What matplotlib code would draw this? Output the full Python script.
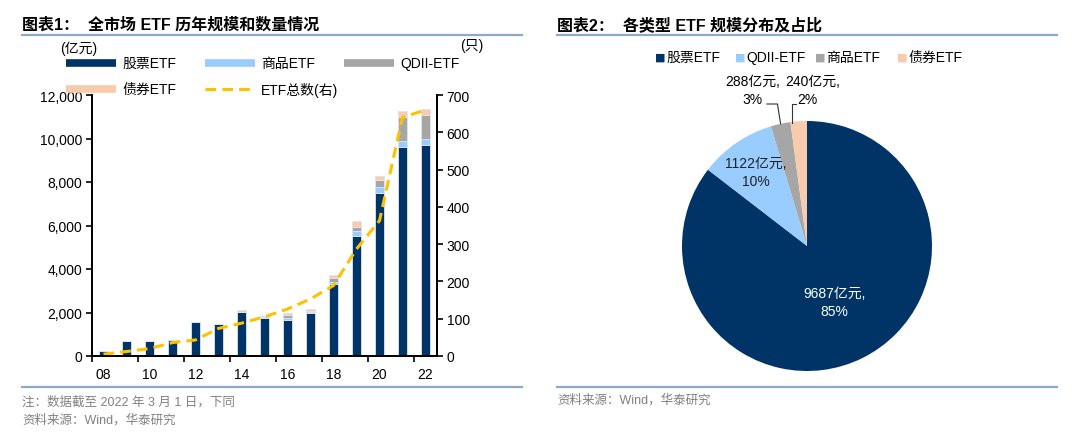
import matplotlib
matplotlib.use("Agg")
import matplotlib.pyplot as plt
from matplotlib.lines import Line2D
import numpy as np

plt.rcParams['font.family'] = ['Liberation Sans', 'Noto Sans CJK SC', 'DejaVu Sans']

# ---------------- data ----------------
years = ['08', '09', '10', '11', '12', '13', '14', '15', '16', '17', '18', '19', '20', '21', '22']
stock_etf = [220, 680, 700, 740, 1560, 1490, 2040, 1730, 1670, 1960, 3300, 5530, 7490, 9600, 9687]
commodity_etf = [0, 0, 0, 0, 0, 0, 0, 30, 60, 50, 120, 200, 260, 300, 288]
qdii_etf = [0, 0, 0, 0, 0, 0, 0, 40, 140, 80, 150, 180, 360, 1100, 1122]
bond_etf = [0, 0, 0, 0, 0, 0, 70, 50, 90, 70, 170, 280, 180, 250, 240]
etf_count = [5, 12, 20, 36, 43, 74, 88, 105, 126, 153, 189, 287, 363, 640, 660]

pie_labels = ['股票ETF', 'QDII-ETF', '商品ETF', '债券ETF']
pie_values = [9687, 1122, 288, 240]

# ---------------- style ----------------
C_STOCK = '#003366'
C_COMM = '#99CCFF'
C_QDII = '#A6A6A6'
C_BOND = '#F8CBAD'
C_LINE = '#FFC000'
C_RULE = '#8DA9CC'
C_NOTE = '#808080'

W, H = 1080, 435
fig = plt.figure(figsize=(W / 100, H / 100), dpi=100)


def fx(px):
    return px / W


def fy(py):
    return 1 - py / H


# ---------------- titles & rules ----------------
fig.text(fx(22), fy(25), '图表1：  全市场 ETF 历年规模和数量情况', fontsize=11.5,
         fontweight='bold', va='center', ha='left')
fig.text(fx(557), fy(25), '图表2：  各类型 ETF 规模分布及占比', fontsize=11.5,
         fontweight='bold', va='center', ha='left')
for (x0, x1) in [(22, 522), (557, 1057)]:
    for yy in (35.5, 388):
        fig.add_artist(Line2D([fx(x0), fx(x1)], [fy(yy), fy(yy)], color=C_RULE, lw=1.6))

fig.text(fx(22), fy(402), '注：数据截至 2022 年 3 月 1 日，下同', fontsize=9, color=C_NOTE,
         va='center', ha='left')
fig.text(fx(22), fy(420), '资料来源：Wind，华泰研究', fontsize=9, color=C_NOTE,
         va='center', ha='left')
fig.text(fx(557), fy(400), '资料来源：Wind，华泰研究', fontsize=9, color=C_NOTE,
         va='center', ha='left')

# ---------------- chart 1 ----------------
ax = fig.add_axes([fx(92), fy(357), fx(437) - fx(92), fy(96) - fy(357)])
x = np.arange(len(years))
bw = 0.42
stock = np.array(stock_etf, float)
comm = np.array(commodity_etf, float)
qdii = np.array(qdii_etf, float)
bond = np.array(bond_etf, float)
ekw = dict(edgecolor='#DDE6F0', linewidth=0.6)
ax.bar(x, stock, bw, color=C_STOCK, **ekw)
ax.bar(x, comm, bw, bottom=stock, color=C_COMM, **ekw)
ax.bar(x, qdii, bw, bottom=stock + comm, color=C_QDII, **ekw)
ax.bar(x, bond, bw, bottom=stock + comm + qdii, color=C_BOND, **ekw)

ax.set_xlim(-0.5, len(years) - 0.5)
ax.set_ylim(0, 12000)
ax.set_yticks(np.arange(0, 12001, 2000))
ax.set_yticklabels([f'{v:,}' for v in range(0, 12001, 2000)], fontsize=10)
ax.set_xticks(x[::2])
ax.set_xticklabels(years[::2], fontsize=10)
ax.tick_params(axis='x', which='major', length=0, pad=8)
ax.set_xticks(np.arange(-0.5, len(years) - 0.5, 2), minor=True)
ax.tick_params(axis='x', which='minor', length=4, width=1.2, direction='out')
ax.tick_params(axis='y', length=4, width=1.2, direction='out', pad=3)
ax.spines['top'].set_visible(False)
for s in ['left', 'right', 'bottom']:
    ax.spines[s].set_linewidth(1.3)

ax2 = ax.twinx()
ax2.set_ylim(0, 700)
ax2.set_yticks(np.arange(0, 701, 100))
ax2.tick_params(axis='y', labelsize=10, length=4, width=1.2, direction='out', pad=3)
ax2.spines['top'].set_visible(False)
for s in ['left', 'right', 'bottom']:
    ax2.spines[s].set_linewidth(1.3)
ax2.plot(x, etf_count, color=C_LINE, lw=2.2, linestyle=(0, (3.5, 2)))

fig.text(fx(60), fy(49), '(亿元)', fontsize=10, va='center', ha='left')
fig.text(fx(460), fy(46), '(只)', fontsize=10, va='center', ha='left')

# legend (chart 1)
leg_items = [
    (66, 64, C_STOCK, '股票ETF', '-'),
    (205, 64, C_COMM, '商品ETF', '-'),
    (344, 64, C_QDII, 'QDII-ETF', '-'),
    (66, 90, C_BOND, '债券ETF', '-'),
    (205, 90, C_LINE, 'ETF总数(右)', '--'),
]
for (lx, ly, col, lab, ls) in leg_items:
    if ls == '-':
        fig.add_artist(Line2D([fx(lx), fx(lx + 50)], [fy(ly), fy(ly)], color=col, lw=5.5,
                              solid_capstyle='butt'))
    else:
        fig.add_artist(Line2D([fx(lx), fx(lx + 50)], [fy(ly), fy(ly)], color=col, lw=2.2,
                              linestyle=(0, (3.5, 2))))
    fig.text(fx(lx + 56), fy(ly), lab, fontsize=10, va='center', ha='left')

# ---------------- chart 2 (pie) ----------------
cx, cy, r = 807, 247, 125
pax = fig.add_axes([fx(cx - r), fy(cy + r), 2 * r / W, 2 * r / H])
pie_colors = [C_STOCK, C_COMM, C_QDII, C_BOND]
wedges, _ = pax.pie(pie_values, colors=pie_colors, startangle=90, counterclock=False,
                    radius=1, wedgeprops=dict(linewidth=0))
pax.set_xlim(-1, 1)
pax.set_ylim(-1, 1)
pax.set_aspect('equal')

total = sum(pie_values)
fracs = [v / total for v in pie_values]
cum = np.cumsum([0] + fracs)
mid_ang = [np.deg2rad(90 - 360 * (cum[i] + fracs[i] / 2)) for i in range(len(fracs))]
labels_txt = [f'{v}亿元,\n{round(f * 100)}%' for v, f in zip(pie_values, fracs)]

# inside labels
for i, dist, col in [(0, 0.5, 'white'), (1, 0.72, '#222222')]:
    a = mid_ang[i]
    pax.text(dist * np.cos(a), dist * np.sin(a), labels_txt[i], ha='center', va='center',
             fontsize=10, color=col, linespacing=1.4)

# outside labels with leader lines
ly = 1.136
lc = '#333333'
# commodity
a = mid_ang[2]
ex, ey = np.cos(a), np.sin(a)
pax.plot([ex, ex - 0.025, ex - 0.11], [ey, ly, ly], color=lc, lw=0.8, clip_on=False)
pax.text(ex - 0.145, ly + 0.04, f'{round(fracs[2] * 100)}%', ha='right', va='center',
         fontsize=10, clip_on=False)
pax.text(ex - 0.225, 1.32, f'{pie_values[2]}亿元,', ha='center', va='center', fontsize=10,
         clip_on=False)
# bond
a = mid_ang[3]
ex, ey = np.cos(a), np.sin(a)
pax.plot([ex - 0.055, ex - 0.055, ex - 0.02], [0.985, ly, ly], color=lc, lw=0.8,
         clip_on=False)
pax.text(ex - 0.01, ly + 0.04, f'{round(fracs[3] * 100)}%', ha='left', va='center',
         fontsize=10, clip_on=False)
pax.text(ex + 0.11, 1.32, f'{pie_values[3]}亿元,', ha='center', va='center', fontsize=10,
         clip_on=False)

# pie legend
leg_x = [655, 735, 815, 897]
for lx, col, lab in zip(leg_x, pie_colors, pie_labels):
    fig.text(fx(lx), fy(58), '■', color=col, fontsize=8, va='center', ha='left',
             family=['DejaVu Sans'])
    fig.text(fx(lx + 11), fy(58), lab, fontsize=10, va='center', ha='left')

fig.savefig('out.png', dpi=100)
